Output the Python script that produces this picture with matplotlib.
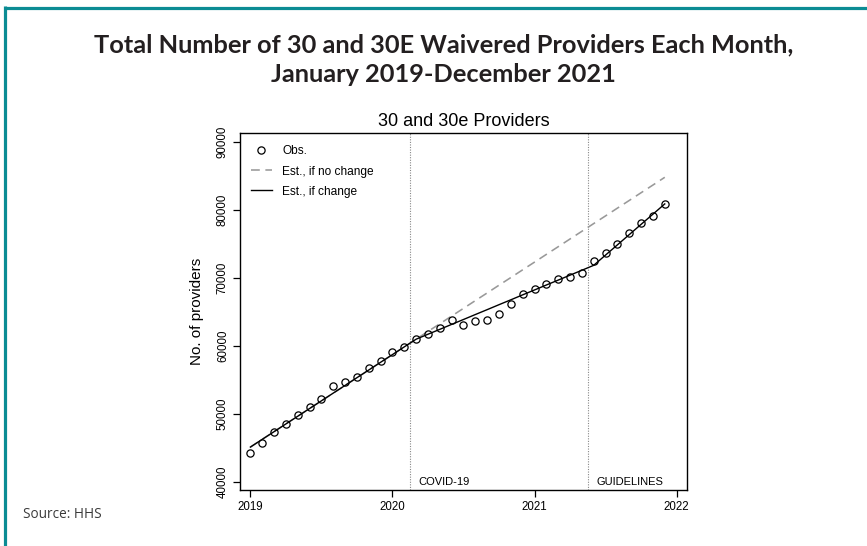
import matplotlib
matplotlib.use("Agg")
import matplotlib.pyplot as plt
from matplotlib.lines import Line2D
import numpy as np

# ---- data ----
months = list(range(36))  # Jan 2019 .. Dec 2021
observed = [44220, 45700, 47270, 48500, 49870, 50950, 52130, 54100, 54640, 55470,
            56800, 57830, 59060, 59790, 60970, 61710, 62640, 63770, 63130, 63620,
            63770, 64660, 66230, 67650, 68390, 69130, 69860, 70210, 70750, 72520,
            73690, 75020, 76640, 78070, 79190, 80910]
est_no_change = [45100, 46240, 47370, 48510, 49640, 50780, 51910, 53050, 54180, 55320,
                 56450, 57590, 58720, 59860, 60990, 62130, 63260, 64400, 65530, 66670,
                 67800, 68940, 70070, 71210, 72340, 73480, 74610, 75750, 76880, 78020,
                 79150, 80290, 81420, 82560, 83690, 84830]
est_change = [45100, 46240, 47370, 48510, 49640, 50780, 51910, 53050, 54180, 55320,
              56450, 57590, 58720, 59860, 60990, 61720, 62440, 63170, 63890, 64620,
              65340, 66070, 66790, 67520, 68240, 68970, 69690, 70420, 71140, 71870,
              73380, 74880, 76390, 77900, 79400, 80910]
events = ["COVID-19", "GUIDELINES"]
event_dates = [2020 + 1.5 / 12, 2021 + 4.5 / 12]
x_ticks = [2019, 2020, 2021, 2022]
y_ticks = [40000, 50000, 60000, 70000, 80000, 90000]

dates = [2019 + m / 12 for m in months]

W, H = 867, 546
fig = plt.figure(figsize=(W / 100, H / 100), dpi=100)
fig.patch.set_facecolor("white")

# teal frame (top and left)
teal = "#0b8c94"
fig.add_artist(Line2D([4.5 / W, 1.0], [1 - 7.5 / H, 1 - 7.5 / H], color=teal, lw=2.3,
                      transform=fig.transFigure, solid_capstyle="butt"))
fig.add_artist(Line2D([4.5 / W, 4.5 / W], [1 - 6.3 / H, 0.0], color=teal, lw=2.3,
                      transform=fig.transFigure, solid_capstyle="butt"))

title_font = ["Lato", "DejaVu Sans"]
fig.text(443.5 / W, 1 - 45 / H, "Total Number of 30 and 30E Waivered Providers Each Month,",
         ha="center", va="center", fontsize=18.3, fontweight="bold", family=title_font,
         color="#231f20")
fig.text(443.5 / W, 1 - 75 / H, "January 2019-December 2021",
         ha="center", va="center", fontsize=18.3, fontweight="bold", family=title_font,
         color="#231f20")
fig.text(23 / W, 1 - 515 / H, "Source: HHS", ha="left", va="center", fontsize=9.8,
         family=["Open Sans", "DejaVu Sans"], color="#3a3a3a")

left, right, top, bottom = 240, 686.7, 133.3, 490
ax = fig.add_axes([left / W, 1 - bottom / H, (right - left) / W, (bottom - top) / H])

rfont = ["Liberation Sans", "DejaVu Sans"]

ax.plot(dates, est_no_change, color="#999999", lw=1.15, dashes=(5.5, 3.5), zorder=2)
ax.plot(dates, est_change, color="black", lw=1.0, zorder=3)
ax.plot(dates, observed, linestyle="none", marker="o", markersize=5.2,
        markerfacecolor="none", markeredgecolor="black", markeredgewidth=0.9, zorder=4)

for d, lab in zip(event_dates, events):
    ax.axvline(d, color="#888888", lw=0.8, linestyle=(0, (1, 1.3)), zorder=1)
    ax.text(d + 0.06, 40000, lab, ha="left", va="center", fontsize=8, family=rfont)

ax.set_xlim(2018.927, 2022.071)
ax.set_ylim(38780, 91310)
ax.set_xticks(x_ticks)
ax.set_xticklabels([str(t) for t in x_ticks], family=rfont, fontsize=8.3)
ax.set_yticks(y_ticks)
ax.set_yticklabels([str(t) for t in y_ticks], family=rfont, fontsize=8.3,
                   rotation=90, va="center")
ax.tick_params(direction="out", length=5, width=0.9, pad=3)
for s in ax.spines.values():
    s.set_linewidth(1.0)
    s.set_color("black")

ax.set_ylabel("No. of providers", family=rfont, fontsize=11, labelpad=9)
ax.set_title("30 and 30e Providers", family=rfont, fontsize=13, pad=5)

handles = [
    Line2D([], [], linestyle="none", marker="o", markersize=5.2, markerfacecolor="none",
           markeredgecolor="black", markeredgewidth=0.9),
    Line2D([], [], color="#999999", lw=1.15, dashes=(5.5, 3.5)),
    Line2D([], [], color="black", lw=1.0),
]
ax.legend(handles, ["Obs.", "Est., if no change", "Est., if change"], loc="upper left",
          bbox_to_anchor=(0.024, 0.966), frameon=False, borderpad=0, borderaxespad=0,
          handlelength=1.8, handletextpad=0.85, labelspacing=0.68,
          prop={"family": rfont, "size": 8.6})

fig.savefig("out.png", dpi=100, facecolor="white")
